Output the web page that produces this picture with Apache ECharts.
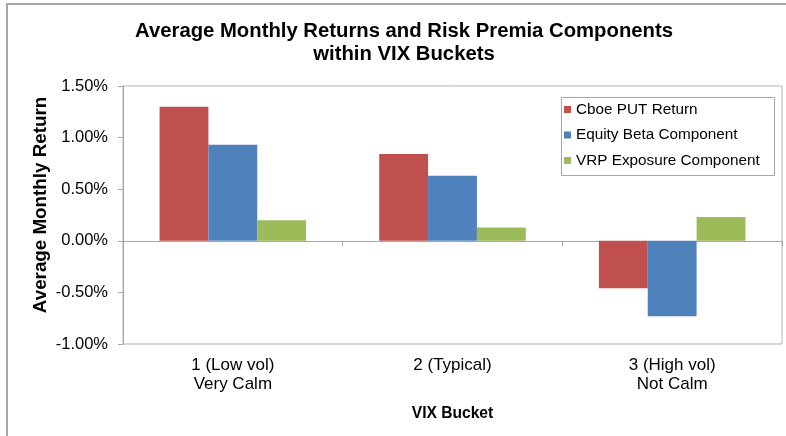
<!DOCTYPE html>
<html>
<head>
<meta charset="utf-8">
<script src="https://cdn.jsdelivr.net/npm/echarts@6/dist/echarts.min.js"></script>
<style>html,body{margin:0;padding:0;background:#fff}#c{width:786px;height:436px}</style>
</head>
<body>
<div id="c"></div>
<script>
const categories = ['1 (Low vol)\nVery Calm', '2 (Typical)', '3 (High vol)\nNot Calm'];
const seriesNames = ['Cboe PUT Return', 'Equity Beta Component', 'VRP Exposure Component'];
const putReturn = [0.0130, 0.0084, -0.0046];
const equityBeta = [0.0093, 0.0063, -0.0073];
const vrpExposure = [0.0020, 0.0013, 0.0023];
const yTicks = {min: -0.01, max: 0.015, interval: 0.005};
const colors = ['#C0504D', '#4F81BD', '#9BBB59'];
const FONT = 'Liberation Sans, Arial, sans-serif';

const chart = echarts.init(document.getElementById('c'), null, {renderer: 'canvas'});
const values = [putReturn, equityBeta, vrpExposure];
chart.setOption({
  animation: false,
  backgroundColor: '#fff',
  textStyle: {fontFamily: FONT, color: '#000'},
  title: {
    text: 'Average Monthly Returns and Risk Premia Components\nwithin VIX Buckets',
    left: 399, top: 15, textAlign: 'center',
    textStyle: {fontFamily: FONT, fontWeight: 'bold', fontSize: 20.3, lineHeight: 23, color: '#000'}
  },
  graphic: [
    {type: 'rect', shape: {x: 7, y: 4, width: 800, height: 460}, style: {fill: 'none', stroke: '#a6a6a6', lineWidth: 2}, z: -1},
    {type: 'rect', shape: {x: 561.5, y: 97.5, width: 213, height: 78}, style: {fill: '#fff', stroke: '#a6a6a6', lineWidth: 1}, z: 5}
  ],
  legend: {
    orient: 'vertical', left: 561, top: 97,
    padding: [5, 10, 5, 3],
    itemWidth: 7, itemHeight: 7, itemGap: 10.5, itemTextGap: 4,
    icon: 'rect', z: 10,
    textStyle: {fontFamily: FONT, fontSize: 15.3, color: '#000'},
    data: seriesNames
  },
  grid: {left: 123, top: 86, right: 4, bottom: 92, show: true, borderColor: '#b3b3b3', borderWidth: 1, containLabel: false},
  xAxis: [
    {
      type: 'category', data: categories, position: 'bottom',
      axisLine: {show: false, onZero: false}, axisTick: {show: false},
      axisLabel: {fontFamily: FONT, fontSize: 17, color: '#000', lineHeight: 19, margin: 12},
      name: 'VIX Bucket', nameLocation: 'middle', nameGap: 62, nameMoveOverlap: false,
      nameTextStyle: {fontFamily: FONT, fontWeight: 'bold', fontSize: 15.6, color: '#000'}
    },
    {
      type: 'category', data: categories, position: 'bottom',
      axisLine: {show: true, onZero: true, lineStyle: {color: '#a6a6a6', width: 1}},
      axisTick: {show: true, length: 5, alignWithLabel: false, lineStyle: {color: '#a6a6a6'}},
      axisLabel: {show: false}
    }
  ],
  yAxis: {
    type: 'value', min: yTicks.min, max: yTicks.max, interval: yTicks.interval,
    axisLine: {show: true, lineStyle: {color: '#a6a6a6'}},
    axisTick: {show: true, length: 5, lineStyle: {color: '#a6a6a6'}},
    splitLine: {show: false},
    axisLabel: {fontFamily: FONT, fontSize: 16.5, color: '#000', margin: 15,
      formatter: v => (v * 100).toFixed(2) + '%'},
    name: 'Average Monthly Return', nameLocation: 'middle', nameGap: 73, nameRotate: 90, nameMoveOverlap: false,
    nameTextStyle: {fontFamily: FONT, fontWeight: 'bold', fontSize: 18.8, color: '#000', padding: [0, 0, 0, 20]}
  },
  series: seriesNames.map((n, i) => ({
    name: n, type: 'bar', xAxisIndex: 0, data: values[i],
    barGap: '0%', barCategoryGap: '33.3%',
    itemStyle: {color: colors[i]}
  }))
});
</script>
</body>
</html>
